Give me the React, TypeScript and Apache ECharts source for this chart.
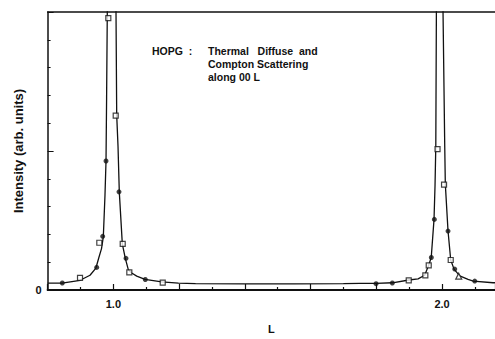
import React, { useEffect, useRef } from "react";
import * as echarts from "echarts";

// Fitted curve (L, intensity in arb. units)
const curveL = [0.8, 0.844, 0.899, 0.929, 0.947, 0.956, 0.964, 0.9695, 0.9746, 0.9777, 0.9795, 0.9816, 0.995, 1.0081, 1.0102, 1.0142, 1.0181, 1.0273, 1.0364, 1.0455, 1.0559, 1.0711, 1.0963, 1.147, 1.198, 1.25, 1.4, 1.55, 1.7, 1.75, 1.799, 1.849, 1.899, 1.927, 1.947, 1.959, 1.967, 1.9755, 1.9786, 1.9809, 1.9827, 1.993, 2.0029, 2.0081, 2.0099, 2.0181, 2.0263, 2.0364, 2.0537, 2.079, 2.095, 2.155, 2.161];
const curveI = [0.245, 0.25, 0.35, 0.53, 0.79, 1.17, 1.49, 1.91, 3.42, 4.64, 6.92, 10.0, 40, 10.0, 6.29, 5.17, 3.53, 1.66, 1.14, 0.73, 0.61, 0.5, 0.38, 0.29, 0.25, 0.23, 0.22, 0.22, 0.23, 0.24, 0.235, 0.26, 0.36, 0.4, 0.53, 0.88, 1.17, 2.54, 3.77, 5.17, 10.0, 40, 10.0, 5.17, 3.8, 2.12, 1.08, 0.75, 0.51, 0.38, 0.32, 0.26, 0.26];

// Measured points: filled circles
const filledL = [0.8447, 0.9494, 0.9676, 0.9777, 1.0172, 1.0385, 1.0972, 1.7991, 1.8487, 1.9673, 1.9765, 2.0181, 2.0385, 2.0994];
const filledI = [0.252, 0.813, 1.93, 4.64, 3.53, 1.14, 0.378, 0.228, 0.252, 1.17, 2.54, 2.12, 0.753, 0.322];

// Measured points: open squares
const openL = [0.8986, 0.9573, 0.9847, 1.0072, 1.0285, 1.0486, 1.1502, 1.8986, 1.9491, 1.9594, 1.9862, 2.006, 2.0263];
const openI = [0.438, 1.7, 9.78, 6.27, 1.66, 0.637, 0.263, 0.343, 0.525, 0.883, 5.07, 3.79, 1.08];

// Measured points: open triangles
const triL = [2.0507];
const triI = [0.497];

const xLabels = ["1.0", "2.0"];
const yLabels = ["0"];

const FONT = "Liberation Sans, Arial, sans-serif";
const INK = "#111";

export default function App() {
  const ref = useRef<HTMLDivElement>(null);
  useEffect(() => {
    if (!ref.current) return;
    const chart = echarts.init(ref.current, undefined, { renderer: "svg" });
    const pairs = (xs: number[], ys: number[]) => xs.map((x, i) => [x, ys[i]]);
    const note = { fontFamily: FONT, fontWeight: "bold", fontSize: 10.5, fill: INK };
    chart.setOption({
      animation: false,
      backgroundColor: "#fff",
      grid: { left: 47.6, right: 0, top: 12, bottom: 41.5 },
      xAxis: [
        {
          type: "value",
          min: 0.8,
          max: 2.161,
          interval: 0.2,
          name: "L",
          nameLocation: "middle",
          nameGap: 33,
          nameTextStyle: { fontFamily: FONT, fontWeight: "bold", fontSize: 11, color: INK },
          axisLine: { show: true, lineStyle: { color: INK, width: 2 } },
          axisTick: { show: true, inside: true, length: 6, lineStyle: { color: INK, width: 1.2 } },
          minorTick: { show: true, splitNumber: 2, length: 3, lineStyle: { color: INK, width: 1.2 } },
          splitLine: { show: false },
          axisLabel: {
            margin: 8,
            fontFamily: FONT,
            fontWeight: "bold",
            fontSize: 11,
            color: INK,
            showMaxLabel: false,
            formatter: (v: number) => {
              const s = v.toFixed(1);
              return xLabels.includes(s) ? s : "";
            },
          },
        },
        {
          type: "value",
          position: "top",
          min: 0.8,
          max: 2.161,
          axisLine: { show: true, lineStyle: { color: INK, width: 1.5 } },
          axisTick: { show: false },
          axisLabel: { show: false },
          splitLine: { show: false },
        },
      ],
      yAxis: {
        type: "value",
        min: 0,
        max: 10,
        interval: 5,
        axisLine: { show: true, lineStyle: { color: INK, width: 1.5 } },
        axisTick: { show: true, inside: true, length: 6, lineStyle: { color: INK, width: 1 } },
        minorTick: { show: true, splitNumber: 5, length: 3, lineStyle: { color: INK, width: 1 } },
        splitLine: { show: false },
        axisLabel: {
          margin: 6,
          fontFamily: FONT,
          fontWeight: "bold",
          fontSize: 11,
          color: INK,
          formatter: (v: number) => (yLabels.includes(String(v)) ? String(v) : ""),
        },
        name: "Intensity (arb. units)",
        nameLocation: "middle",
        nameRotate: 90,
        nameGap: 21,
        nameTextStyle: { fontFamily: FONT, fontWeight: "bold", fontSize: 13, color: INK },
      },
      graphic: [
        { type: "text", left: 152, top: 45.5, style: { text: "HOPG  :", ...note } },
        { type: "text", left: 208, top: 45.5, style: { text: "Thermal   Diffuse  and", ...note } },
        { type: "text", left: 208, top: 58, style: { text: "Compton Scattering", ...note } },
        { type: "text", left: 208, top: 71.5, style: { text: "along 00 L", ...note } },
      ],
      series: [
        {
          type: "line",
          data: pairs(curveL, curveI),
          showSymbol: false,
          symbol: "none",
          clip: true,
          lineStyle: { color: INK, width: 1.3 },
          z: 2,
        },
        {
          type: "scatter",
          data: pairs(filledL, filledI),
          symbol: "circle",
          symbolSize: 5,
          itemStyle: { color: INK },
          z: 3,
        },
        {
          type: "scatter",
          data: pairs(openL, openI),
          symbol: "rect",
          symbolSize: 5,
          itemStyle: { color: "#fff", borderColor: INK, borderWidth: 1.2 },
          z: 3,
        },
        {
          type: "scatter",
          data: pairs(triL, triI),
          symbol: "triangle",
          symbolSize: 6,
          itemStyle: { color: "#fff", borderColor: INK, borderWidth: 1.2 },
          z: 3,
        },
      ],
    });
    return () => chart.dispose();
  }, []);
  return (
    <div
      ref={ref}
      style={{ position: "fixed", left: 0, top: 0, width: 495, height: 339, background: "#fff" }}
    />
  );
}
